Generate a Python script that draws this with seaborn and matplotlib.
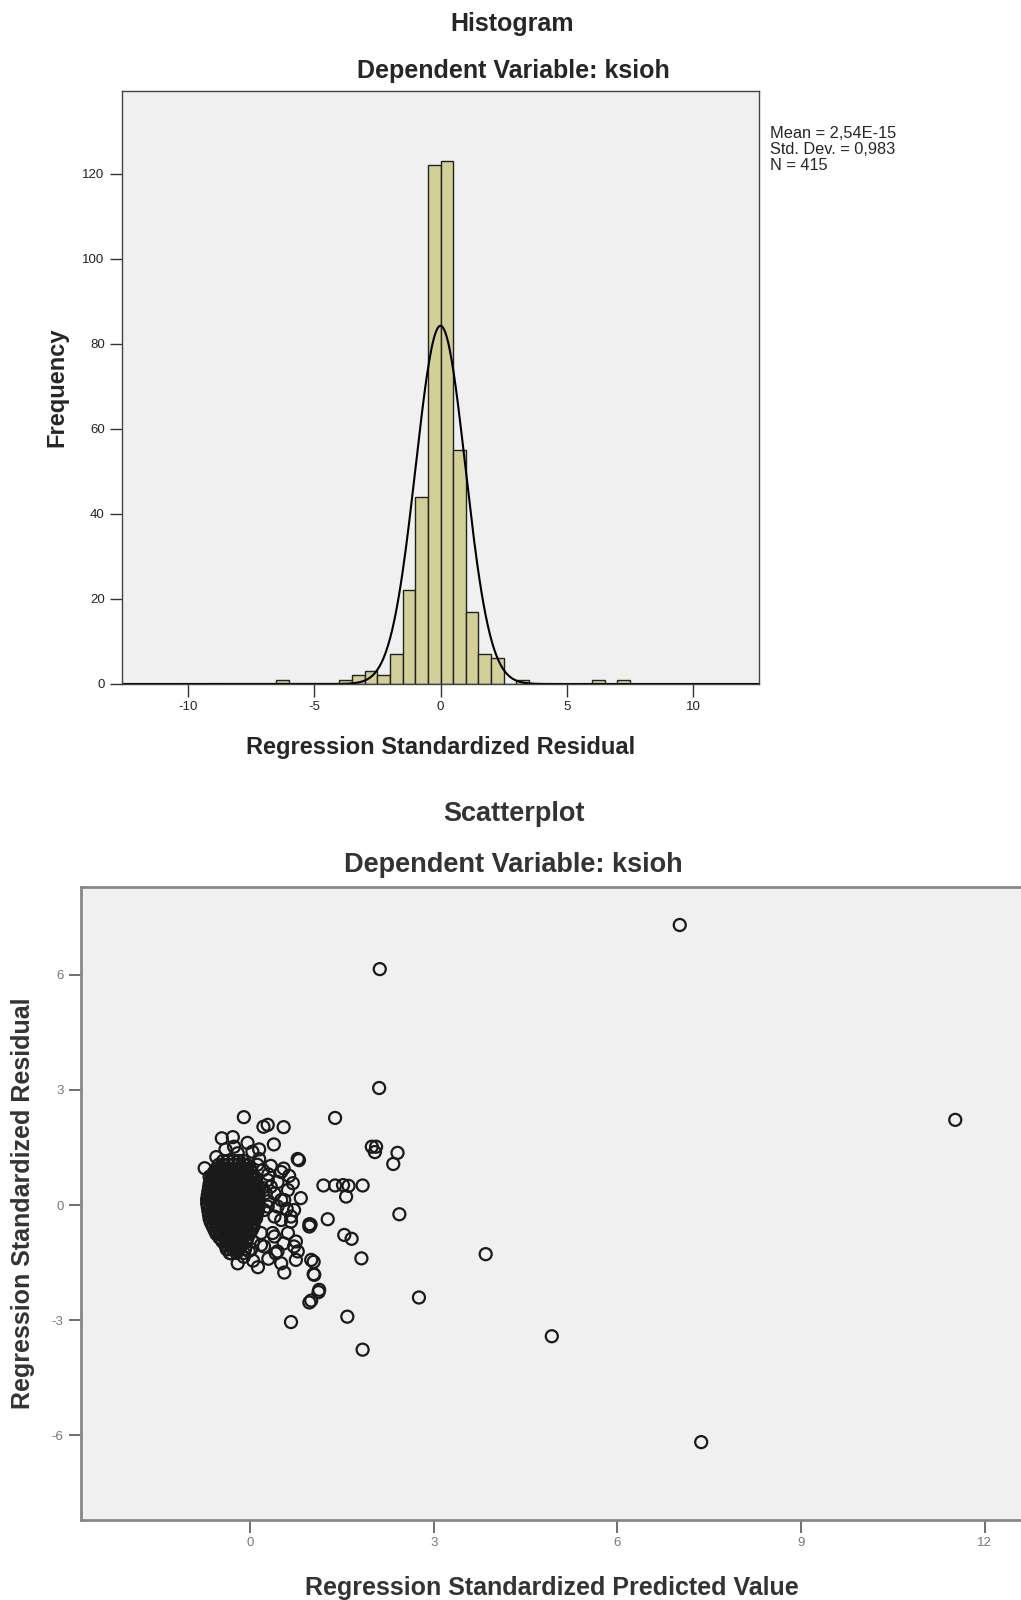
import numpy as np
import pandas as pd
import matplotlib
matplotlib.use("Agg")
import matplotlib.pyplot as plt
import seaborn as sns

# ---- histogram data (bins of width 0.5, left edges) ----
bin_left = [-6.5, -4.0, -3.5, -3.0, -2.5, -2.0, -1.5, -1.0, -0.5,
            0.0, 0.5, 1.0, 1.5, 2.0, 3.0, 6.0, 7.0]
bin_count = [1, 1, 2, 3, 2, 7, 22, 44, 122,
             123, 55, 17, 7, 6, 1, 1, 1]
bin_width = 0.5
res_mean = 2.54e-15
res_std = 0.983
n_obs = 415

hist_xticks = [-10, -5, 0, 5, 10]
hist_yticks = [0, 20, 40, 60, 80, 100, 120]

# ---- scatter data: isolated points (predicted, residual) ----
pts_x = [7.02, 2.12, 2.11, 11.52, 1.39, 7.37, 4.93, 3.85, 2.76, 1.84, 1.59, 0.67,
         2.44, 2.41, 2.34, 1.99, 2.06, 2.04, 1.20, 1.39, 1.52, 1.61, 1.57, 1.84,
         1.27, 1.54, 1.66, 1.82, 0.99, 1.04, 1.04, 1.12, 1.00, 0.97,
         -0.10, 0.22, 0.29, 0.55, -0.46, -0.28, -0.04, 0.15, 0.39, -0.26, 0.04, -0.40,
         0.78, 0.80, -0.74, -0.66, 0.34, 0.21, 0.51, 0.64, 0.29, 0.70, 0.34, 0.62,
         0.26, 0.40, 0.83, 0.56, 0.45, 0.23, 0.72, 0.40, 0.67, 0.97, 0.51, 0.67,
         0.62, 0.18, 0.40, 0.75, 0.23, 0.18, 0.45, 0.78, 0.37, 0.42, 0.72, -0.53,
         -0.31, -0.20, 0.13, 0.51, 0.56, 0.75, 1.00, 1.05, 1.13, 0.97, 0.29, 0.51,
         0.45, 0.55, 0.15, 0.10, 0.20, -0.02, -0.10, -0.35, 0.30, 0.05, 0.30, 0.60,
         0.55, 0.05, 0.30, 0.12, -0.55, -0.20]
pts_y = [7.30, 6.15, 3.05, 2.22, 2.27, -6.18, -3.42, -1.28, -2.41, -3.77, -2.91, -3.05,
         -0.24, 1.36, 1.07, 1.52, 1.52, 1.38, 0.51, 0.51, 0.52, 0.50, 0.22, 0.51,
         -0.37, -0.78, -0.88, -1.39, -0.51, -1.48, -1.80, -2.27, -2.49, -2.54,
         2.29, 2.04, 2.09, 2.03, 1.74, 1.77, 1.62, 1.45, 1.58, 1.52, 1.39, 1.45,
         1.20, 1.17, 0.96, 0.74, 1.02, 0.91, 0.86, 0.76, 0.65, 0.57, 0.48, 0.39,
         0.31, 0.30, 0.18, 0.13, -0.04, -0.13, -0.13, -0.30, -0.30, -0.50, -0.39, -0.43,
         -0.73, -0.73, -0.82, -0.95, -1.08, -1.04, -1.21, -1.21, -0.73, -1.26, -1.08, -0.73,
         -1.26, -1.52, -1.62, -1.52, -1.76, -1.43, -1.43, -1.82, -2.21, -0.56, -0.04, 0.13,
         0.60, 0.95, 1.20, 0.70, 0.45, -1.20, -1.35, -1.15, -1.40, -1.45, 0.10, -0.10,
         -1.00, -0.95, 0.80, 1.05, 1.25, 1.35]

# ---- scatter data: dense core, one list of predicted values per residual row ----
core_y = [1.15, 1.05, 0.95, 0.85, 0.75, 0.65, 0.55, 0.45, 0.35, 0.25, 0.15, 0.05,
          -0.05, -0.15, -0.25, -0.35, -0.45, -0.55, -0.65, -0.75, -0.85, -0.95,
          -1.05, -1.15, -1.25,
          0.90, 0.70, 0.50, 0.30, 0.10, -0.10, -0.30, -0.50, -0.70, -0.90]
core_x = [
    [-0.44, -0.36, -0.27, -0.18, -0.11],
    [-0.51, -0.43, -0.35, -0.27, -0.19, -0.10, -0.05],
    [-0.55, -0.47, -0.40, -0.32, -0.24, -0.16, -0.08, 0.00],
    [-0.59, -0.51, -0.43, -0.36, -0.28, -0.20, -0.12, -0.04, 0.03],
    [-0.62, -0.54, -0.47, -0.39, -0.31, -0.23, -0.16, -0.08, 0.00, 0.06],
    [-0.64, -0.57, -0.49, -0.41, -0.33, -0.26, -0.18, -0.10, -0.02, 0.07],
    [-0.66, -0.58, -0.51, -0.43, -0.35, -0.27, -0.19, -0.12, -0.04, 0.04, 0.10],
    [-0.67, -0.59, -0.52, -0.44, -0.36, -0.28, -0.21, -0.13, -0.05, 0.03, 0.11],
    [-0.68, -0.60, -0.53, -0.45, -0.37, -0.29, -0.22, -0.14, -0.06, 0.02, 0.10, 0.13],
    [-0.69, -0.61, -0.53, -0.45, -0.38, -0.30, -0.22, -0.14, -0.07, 0.01, 0.09, 0.14],
    [-0.70, -0.62, -0.54, -0.46, -0.38, -0.30, -0.23, -0.15, -0.07, 0.01, 0.08, 0.14],
    [-0.70, -0.62, -0.54, -0.46, -0.39, -0.31, -0.23, -0.15, -0.08, 0.00, 0.08, 0.14],
    [-0.69, -0.61, -0.53, -0.46, -0.38, -0.30, -0.22, -0.15, -0.07, 0.01, 0.09, 0.14],
    [-0.68, -0.60, -0.52, -0.45, -0.37, -0.29, -0.21, -0.14, -0.06, 0.02, 0.10, 0.13],
    [-0.67, -0.59, -0.51, -0.44, -0.36, -0.28, -0.21, -0.13, -0.05, 0.03, 0.11],
    [-0.66, -0.58, -0.50, -0.42, -0.35, -0.27, -0.19, -0.11, -0.04, 0.04, 0.10],
    [-0.64, -0.56, -0.48, -0.41, -0.33, -0.25, -0.17, -0.10, -0.02, 0.06],
    [-0.61, -0.54, -0.46, -0.38, -0.30, -0.23, -0.15, -0.07, 0.01, 0.06],
    [-0.58, -0.50, -0.43, -0.35, -0.27, -0.19, -0.12, -0.04, 0.03],
    [-0.55, -0.47, -0.39, -0.32, -0.24, -0.16, -0.08, -0.01],
    [-0.50, -0.42, -0.34, -0.27, -0.19, -0.11, -0.04],
    [-0.45, -0.37, -0.29, -0.21, -0.13, -0.06],
    [-0.40, -0.31, -0.22, -0.14],
    [-0.38, -0.28, -0.18, -0.08, 0.02],
    [-0.33, -0.22, -0.10],
    [-0.53, -0.45, -0.37, -0.29, -0.21, -0.13, -0.05],
    [-0.60, -0.52, -0.44, -0.36, -0.28, -0.20, -0.12, -0.04, 0.03],
    [-0.63, -0.55, -0.47, -0.39, -0.31, -0.23, -0.15, -0.07, 0.01, 0.08],
    [-0.65, -0.57, -0.49, -0.41, -0.33, -0.26, -0.18, -0.10, -0.02, 0.06],
    [-0.66, -0.58, -0.50, -0.42, -0.34, -0.27, -0.19, -0.11, -0.03, 0.05],
    [-0.65, -0.57, -0.49, -0.41, -0.33, -0.26, -0.18, -0.10, -0.02, 0.06],
    [-0.63, -0.55, -0.47, -0.39, -0.31, -0.23, -0.15, -0.07, 0.01, 0.07],
    [-0.60, -0.52, -0.44, -0.36, -0.28, -0.20, -0.12, -0.04, 0.03],
    [-0.54, -0.46, -0.38, -0.30, -0.22, -0.14, -0.06],
    [-0.46, -0.38, -0.30, -0.22, -0.14, -0.06],
]

scat_xticks = [0, 3, 6, 9, 12]
scat_yticks = [-6, -3, 0, 3, 6]

# ---- build frames ----
hist_df = pd.DataFrame({"resid": np.array(bin_left) + bin_width / 2, "count": bin_count})

sx = list(pts_x)
sy = list(pts_y)
for yv, row in zip(core_y, core_x):
    sx.extend(row)
    sy.extend([yv] * len(row))
scat_df = pd.DataFrame({"pred": sx, "resid": sy})

sns.set_style("white")
plt.rcParams["font.family"] = ["Liberation Sans", "DejaVu Sans"]
plt.rcParams["axes.unicode_minus"] = False

fig = plt.figure(figsize=(10.21, 16), dpi=100)
W, H = 1021, 1600

def axes_px(left, top, right, bottom):
    return fig.add_axes([left / W, 1 - bottom / H, (right - left) / W, (bottom - top) / H])

bg = "#f0f0f0"

# ================= Histogram =================
ax1 = axes_px(122, 91, 759, 684)
ax1.set_facecolor(bg)
sns.histplot(data=hist_df, x="resid", weights="count", binwidth=bin_width,
             binrange=(-6.5, 7.5), color="#d3cf98", alpha=1.0,
             edgecolor="#222222", linewidth=1.0, ax=ax1)

xs = np.linspace(-12.6, 12.6, 600)
curve = n_obs * bin_width * np.exp(-0.5 * ((xs - res_mean) / res_std) ** 2) / (res_std * np.sqrt(2 * np.pi))
sns.lineplot(x=xs, y=curve, color="black", linewidth=1.5, ax=ax1)

ax1.set_xlim(-12.6, 12.6)
ax1.set_ylim(0, 139.4)
ax1.set_xticks(hist_xticks)
ax1.set_yticks(hist_yticks)
ax1.tick_params(axis="both", direction="out", length=9, width=1, color="#333333",
                labelsize=9.5, labelcolor="#222222", left=True, bottom=True)
for s in ax1.spines.values():
    s.set_color("#444444")
    s.set_linewidth(1.0)
ax1.set_xlabel("Regression Standardized Residual", fontsize=17, fontweight="bold",
               labelpad=16)
ax1.set_ylabel("Frequency", fontsize=17, fontweight="bold", labelpad=10)

fig.text(0.502, 1 - 24 / H, "Histogram", ha="center", va="center",
         fontsize=18, fontweight="bold")
fig.text(0.503, 1 - 71 / H, "Dependent Variable: ksioh", ha="center", va="center",
         fontsize=18, fontweight="bold")
fig.text(770 / W, 1 - 126 / H, "Mean = 2,54E-15\nStd. Dev. = 0,983\nN = 415",
         ha="left", va="top", fontsize=11.8, linespacing=1.1)

# ================= Scatterplot =================
ax2 = axes_px(81, 887, 1022, 1520)
ax2.set_facecolor(bg)
sns.scatterplot(data=scat_df, x="pred", y="resid", marker="o", s=75,
                facecolors="none", edgecolor="#1a1a1a", linewidth=1.6, ax=ax2)
ax2.set_xlim(-2.76, 12.61)
ax2.set_ylim(-8.21, 8.29)
ax2.set_xticks(scat_xticks)
ax2.set_yticks(scat_yticks)
ax2.tick_params(axis="both", direction="out", length=9, width=1.2, color="#555555",
                labelsize=9.5, labelcolor="#777777", left=True, bottom=True)
for name, s in ax2.spines.items():
    s.set_color("#888888")
    s.set_linewidth(2.0)
ax2.spines["right"].set_visible(False)
ax2.set_xlabel("Regression Standardized Predicted Value", fontsize=18, fontweight="bold",
               color="#333333", labelpad=19)
ax2.set_ylabel("Regression Standardized Residual", fontsize=18, fontweight="bold",
               color="#333333", labelpad=12)

fig.text(0.503, 1 - 814 / H, "Scatterplot", ha="center", va="center",
         fontsize=19.5, fontweight="bold", color="#333333")
fig.text(0.503, 1 - 865 / H, "Dependent Variable: ksioh", ha="center", va="center",
         fontsize=19.5, fontweight="bold", color="#333333")

fig.savefig("out.png", dpi=100, facecolor="white")
